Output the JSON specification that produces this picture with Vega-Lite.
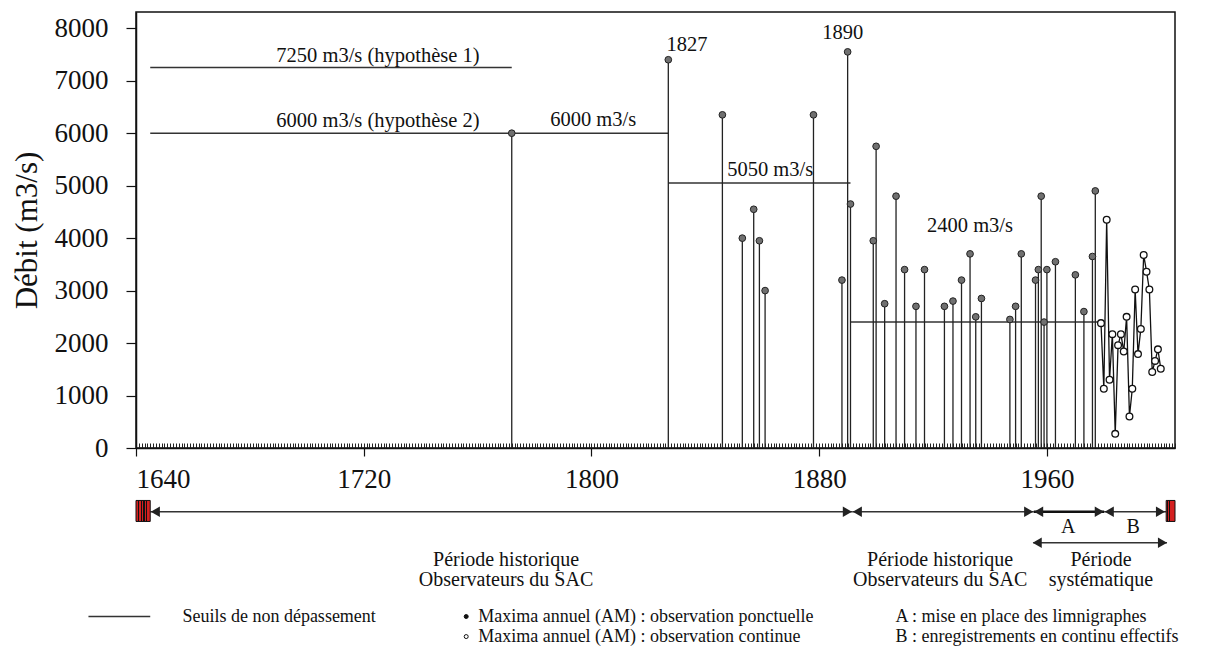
{
  "$schema": "https://vega.github.io/schema/vega-lite/v6.json",
  "width": 1039,
  "height": 436,
  "autosize": {"type": "none"},
  "padding": {"left": 136, "top": 12, "right": 37, "bottom": 201},
  "background": "white",
  "config": {
    "font": "Liberation Serif",
    "view": {"stroke": "#111", "strokeWidth": 1.5},
    "axis": {"labelFont": "Liberation Serif", "titleFont": "Liberation Serif", "labelColor": "#111", "titleColor": "#111", "domainColor": "#111", "tickColor": "#111", "grid": false, "titleFontWeight": "normal"}
  },
  "datasets": {
    "seuils": [
      {"x1": 1645, "x2": 1772, "q": 7250},
      {"x1": 1645, "x2": 1827, "q": 6000},
      {"x1": 1827, "x2": 1891, "q": 5050},
      {"x1": 1891, "x2": 1979, "q": 2400}
    ],
    "hist": [
      {"year": 1772, "q": 6000}, {"year": 1827, "q": 7400}, {"year": 1846, "q": 6350}, {"year": 1853, "q": 4000},
      {"year": 1857, "q": 4550}, {"year": 1859, "q": 3950}, {"year": 1861, "q": 3000}, {"year": 1878, "q": 6350},
      {"year": 1888, "q": 3200}, {"year": 1890, "q": 7550}, {"year": 1891, "q": 4650}, {"year": 1899, "q": 3950},
      {"year": 1900, "q": 5750}, {"year": 1903, "q": 2750}, {"year": 1907, "q": 4800}, {"year": 1910, "q": 3400},
      {"year": 1914, "q": 2700}, {"year": 1917, "q": 3400}, {"year": 1924, "q": 2700}, {"year": 1927, "q": 2800},
      {"year": 1930, "q": 3200}, {"year": 1933, "q": 3700}, {"year": 1935, "q": 2500}, {"year": 1937, "q": 2850},
      {"year": 1947, "q": 2450}, {"year": 1949, "q": 2700}, {"year": 1951, "q": 3700}, {"year": 1956, "q": 3200},
      {"year": 1957, "q": 3400}, {"year": 1958, "q": 4800}, {"year": 1959, "q": 2400}, {"year": 1960, "q": 3400},
      {"year": 1963, "q": 3550}, {"year": 1970, "q": 3300}, {"year": 1973, "q": 2600}, {"year": 1976, "q": 3650},
      {"year": 1977, "q": 4900}
    ],
    "cont": [
      {"year": 1979, "q": 2380}, {"year": 1980, "q": 1130}, {"year": 1981, "q": 4350}, {"year": 1982, "q": 1300},
      {"year": 1983, "q": 2170}, {"year": 1984, "q": 270}, {"year": 1985, "q": 1960}, {"year": 1986, "q": 2170},
      {"year": 1987, "q": 1840}, {"year": 1988, "q": 2500}, {"year": 1989, "q": 600}, {"year": 1990, "q": 1130},
      {"year": 1991, "q": 3020}, {"year": 1992, "q": 1790}, {"year": 1993, "q": 2270}, {"year": 1994, "q": 3680},
      {"year": 1995, "q": 3360}, {"year": 1996, "q": 3020}, {"year": 1997, "q": 1450}, {"year": 1998, "q": 1660},
      {"year": 1999, "q": 1880}, {"year": 2000, "q": 1510}
    ],
    "plotlabels": [
      {"year": 1725, "q": 7464, "text": "7250 m3/s  (hypothèse 1)"},
      {"year": 1725, "q": 6225, "text": "6000 m3/s (hypothèse 2)"},
      {"year": 1800.6, "q": 6244, "text": "6000 m3/s"},
      {"year": 1862.8, "q": 5304, "text": "5050 m3/s"},
      {"year": 1933, "q": 4237, "text": "2400 m3/s"},
      {"year": 1833.6, "q": 7687, "text": "1827"},
      {"year": 1888.3, "q": 7915, "text": "1890"}
    ],
    "segments": [
      {"x1": 1645, "x2": 1891.6, "q": -1215, "seg": "n"},
      {"x1": 1891.6, "x2": 1955.4, "q": -1215, "seg": "n"},
      {"x1": 1955.4, "x2": 1980.1, "q": -1215, "seg": "A"},
      {"x1": 1980.1, "x2": 2001.9, "q": -1215, "seg": "n"},
      {"x1": 1955.2, "x2": 2002.2, "q": -1805, "seg": "n"}
    ],
    "heads": [
      {"year": 1646.8, "q": -1215, "dir": "left"},
      {"year": 1889.9, "q": -1215, "dir": "right"},
      {"year": 1893.4, "q": -1215, "dir": "left"},
      {"year": 1953.6, "q": -1215, "dir": "right"},
      {"year": 1957.1, "q": -1215, "dir": "left"},
      {"year": 1978.4, "q": -1215, "dir": "right"},
      {"year": 1981.9, "q": -1215, "dir": "left"},
      {"year": 1999.9, "q": -1215, "dir": "right"},
      {"year": 1956.6, "q": -1805, "dir": "left"},
      {"year": 2000.6, "q": -1805, "dir": "right"}
    ],
    "boxes": [
      {"x1": 1640, "x2": 1645, "q1": -1000, "q2": -1400},
      {"x1": 2001.9, "x2": 2005, "q1": -1000, "q2": -1400}
    ],
    "periods": [
      {"year": 1770, "q": -2129, "text": "Période historique\nObservateurs du SAC"},
      {"year": 1922.5, "q": -2129, "text": "Période historique\nObservateurs du SAC"},
      {"year": 1979, "q": -2129, "text": "Période\nsystématique"},
      {"year": 1967.5, "q": -1500, "text": "A"},
      {"year": 1990.3, "q": -1500, "text": "B"}
    ],
    "legline": [{"x1": 1623.3, "x2": 1645, "q": -3212}],
    "legdots": [
      {"year": 1756, "q": -3212, "type": "ponctuelle"},
      {"year": 1756, "q": -3594, "type": "continue"}
    ],
    "legtext": [
      {"year": 1656.3, "q": -3212, "text": "Seuils de non dépassement"},
      {"year": 1760.2, "q": -3212, "text": "Maxima annuel (AM) : observation ponctuelle"},
      {"year": 1760.2, "q": -3594, "text": "Maxima annuel (AM) : observation continue"},
      {"year": 1906.8, "q": -3212, "text": "A : mise en place des limnigraphes"},
      {"year": 1906.8, "q": -3594, "text": "B : enregistrements en continu effectifs"}
    ]
  },
  "resolve": {"axis": {"x": "independent"}},
  "layer": [
    {
      "data": {"name": "seuils"},
      "mark": {"type": "rule", "color": "#333", "strokeWidth": 1.5},
      "encoding": {
        "x": {"field": "x1", "type": "quantitative", "scale": {"domain": [1640, 2005], "nice": false, "zero": false},
              "axis": {"orient": "bottom", "tickCount": 365, "labels": false, "tickSize": -5, "tickWidth": 1, "tickColor": "#222", "domain": true, "domainWidth": 1.5, "title": null}},
        "x2": {"field": "x2"},
        "y": {"field": "q", "type": "quantitative", "scale": {"domain": [0, 8310], "nice": false, "zero": false},
              "axis": {"values": [0, 1000, 2000, 3000, 4000, 5000, 6000, 7000, 8000], "format": "d", "tickSize": 10, "tickWidth": 1.2, "labelFontSize": 27, "labelPadding": 18, "domainWidth": 1.5, "title": "Débit (m3/s)", "titleFontSize": 31, "titlePadding": 11}}
      }
    },
    {
      "data": {"name": "hist"},
      "mark": {"type": "rule", "color": "#222", "strokeWidth": 1.3},
      "encoding": {
        "x": {"field": "year", "type": "quantitative", "scale": {"domain": [1640, 2005], "nice": false, "zero": false},
              "axis": {"orient": "bottom", "values": [1640, 1720, 1800, 1880, 1960], "format": "d", "tickSize": 8, "tickWidth": 1.2, "labelFontSize": 27, "labelPadding": 10, "domain": false, "title": null}},
        "y": {"field": "q", "type": "quantitative", "scale": {"domain": [0, 8310], "nice": false, "zero": false}},
        "y2": {"datum": 0}
      }
    },
    {
      "data": {"name": "hist"},
      "mark": {"type": "point", "filled": true, "fill": "#707070", "stroke": "#222", "strokeWidth": 1, "size": 45, "opacity": 1},
      "encoding": {
        "x": {"field": "year", "type": "quantitative", "scale": {"domain": [1640, 2005], "nice": false, "zero": false}, "axis": null},
        "y": {"field": "q", "type": "quantitative", "scale": {"domain": [0, 8310], "nice": false, "zero": false}}
      }
    },
    {
      "data": {"name": "cont"},
      "mark": {"type": "line", "color": "#111", "strokeWidth": 1.3},
      "encoding": {
        "x": {"field": "year", "type": "quantitative", "scale": {"domain": [1640, 2005], "nice": false, "zero": false}, "axis": null},
        "y": {"field": "q", "type": "quantitative", "scale": {"domain": [0, 8310], "nice": false, "zero": false}}
      }
    },
    {
      "data": {"name": "cont"},
      "mark": {"type": "point", "filled": true, "fill": "white", "stroke": "#111", "strokeWidth": 1.3, "size": 45, "opacity": 1},
      "encoding": {
        "x": {"field": "year", "type": "quantitative", "scale": {"domain": [1640, 2005], "nice": false, "zero": false}, "axis": null},
        "y": {"field": "q", "type": "quantitative", "scale": {"domain": [0, 8310], "nice": false, "zero": false}}
      }
    },
    {
      "data": {"name": "plotlabels"},
      "mark": {"type": "text", "font": "Liberation Serif", "fontSize": 20.5, "color": "#111", "align": "center", "baseline": "middle"},
      "encoding": {
        "x": {"field": "year", "type": "quantitative", "scale": {"domain": [1640, 2005], "nice": false, "zero": false}, "axis": null},
        "y": {"field": "q", "type": "quantitative", "scale": {"domain": [0, 8310], "nice": false, "zero": false}},
        "text": {"field": "text"}
      }
    },
    {
      "data": {"name": "segments"},
      "transform": [{"filter": "datum.seg == 'n'"}],
      "mark": {"type": "rule", "color": "#333", "strokeWidth": 1.5},
      "encoding": {
        "x": {"field": "x1", "type": "quantitative", "scale": {"domain": [1640, 2005], "nice": false, "zero": false}, "axis": null},
        "x2": {"field": "x2"},
        "y": {"field": "q", "type": "quantitative", "scale": {"domain": [0, 8310], "nice": false, "zero": false}}
      }
    },
    {
      "data": {"name": "segments"},
      "transform": [{"filter": "datum.seg == 'A'"}],
      "mark": {"type": "rule", "color": "#111", "strokeWidth": 2.5},
      "encoding": {
        "x": {"field": "x1", "type": "quantitative", "scale": {"domain": [1640, 2005], "nice": false, "zero": false}, "axis": null},
        "x2": {"field": "x2"},
        "y": {"field": "q", "type": "quantitative", "scale": {"domain": [0, 8310], "nice": false, "zero": false}}
      }
    },
    {
      "data": {"name": "heads"},
      "mark": {"type": "point", "filled": true, "color": "#222", "size": 110, "opacity": 1},
      "encoding": {
        "x": {"field": "year", "type": "quantitative", "scale": {"domain": [1640, 2005], "nice": false, "zero": false}, "axis": null},
        "y": {"field": "q", "type": "quantitative", "scale": {"domain": [0, 8310], "nice": false, "zero": false}},
        "shape": {"field": "dir", "type": "nominal", "scale": {"domain": ["left", "right"], "range": ["triangle-left", "triangle-right"]}, "legend": null}
      }
    },
    {
      "data": {"name": "boxes"},
      "mark": {"type": "rect", "stroke": "#111", "strokeWidth": 1,
               "fill": {"gradient": "linear", "x1": 0, "y1": 0, "x2": 1, "y2": 0,
                        "stops": [
                          {"offset": 0, "color": "#d42020"}, {"offset": 0.12, "color": "#d42020"},
                          {"offset": 0.12, "color": "#111"}, {"offset": 0.2, "color": "#111"},
                          {"offset": 0.2, "color": "#d42020"}, {"offset": 0.32, "color": "#d42020"},
                          {"offset": 0.32, "color": "#111"}, {"offset": 0.4, "color": "#111"},
                          {"offset": 0.4, "color": "#d42020"}, {"offset": 0.52, "color": "#d42020"},
                          {"offset": 0.52, "color": "#111"}, {"offset": 0.6, "color": "#111"},
                          {"offset": 0.6, "color": "#d42020"}, {"offset": 0.72, "color": "#d42020"},
                          {"offset": 0.72, "color": "#111"}, {"offset": 0.8, "color": "#111"},
                          {"offset": 0.8, "color": "#d42020"}, {"offset": 1, "color": "#d42020"}
                        ]}},
      "encoding": {
        "x": {"field": "x1", "type": "quantitative", "scale": {"domain": [1640, 2005], "nice": false, "zero": false}, "axis": null},
        "x2": {"field": "x2"},
        "y": {"field": "q1", "type": "quantitative", "scale": {"domain": [0, 8310], "nice": false, "zero": false}},
        "y2": {"field": "q2"}
      }
    },
    {
      "data": {"name": "periods"},
      "mark": {"type": "text", "font": "Liberation Serif", "fontSize": 20, "color": "#111", "align": "center", "baseline": "middle", "lineBreak": "\n", "lineHeight": 20},
      "encoding": {
        "x": {"field": "year", "type": "quantitative", "scale": {"domain": [1640, 2005], "nice": false, "zero": false}, "axis": null},
        "y": {"field": "q", "type": "quantitative", "scale": {"domain": [0, 8310], "nice": false, "zero": false}},
        "text": {"field": "text"}
      }
    },
    {
      "data": {"name": "legline"},
      "mark": {"type": "rule", "color": "#333", "strokeWidth": 1.5},
      "encoding": {
        "x": {"field": "x1", "type": "quantitative", "scale": {"domain": [1640, 2005], "nice": false, "zero": false}, "axis": null},
        "x2": {"field": "x2"},
        "y": {"field": "q", "type": "quantitative", "scale": {"domain": [0, 8310], "nice": false, "zero": false}}
      }
    },
    {
      "data": {"name": "legdots"},
      "mark": {"type": "point", "filled": true, "stroke": "#111", "strokeWidth": 1, "size": 16, "opacity": 1},
      "encoding": {
        "x": {"field": "year", "type": "quantitative", "scale": {"domain": [1640, 2005], "nice": false, "zero": false}, "axis": null},
        "y": {"field": "q", "type": "quantitative", "scale": {"domain": [0, 8310], "nice": false, "zero": false}},
        "fill": {"field": "type", "type": "nominal", "scale": {"domain": ["ponctuelle", "continue"], "range": ["#111", "white"]}, "legend": null}
      }
    },
    {
      "data": {"name": "legtext"},
      "mark": {"type": "text", "font": "Liberation Serif", "fontSize": 18, "color": "#111", "align": "left", "baseline": "middle"},
      "encoding": {
        "x": {"field": "year", "type": "quantitative", "scale": {"domain": [1640, 2005], "nice": false, "zero": false}, "axis": null},
        "y": {"field": "q", "type": "quantitative", "scale": {"domain": [0, 8310], "nice": false, "zero": false}},
        "text": {"field": "text"}
      }
    }
  ]
}
